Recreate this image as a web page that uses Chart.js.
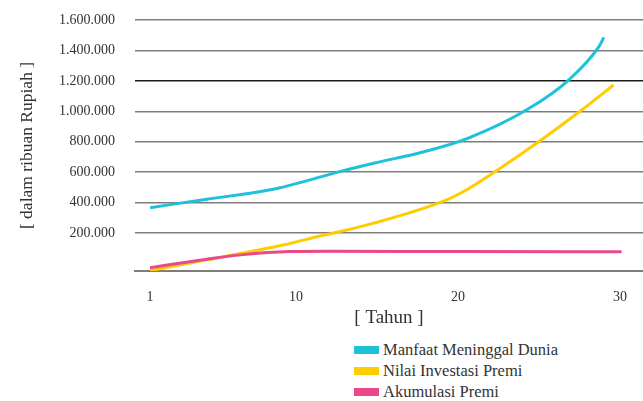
<!DOCTYPE html>
<html lang="id">
<head>
  <meta charset="UTF-8" />
  <title>Manfaat Asuransi</title>
  <script src="https://cdn.jsdelivr.net/npm/chart.js"></script>
  <style>
    body {
      margin: 0;
      background: #fff;
      font-family: 'Liberation Serif', serif;
    }
    .wrap {
      position: relative;
      width: 643px;
      height: 401px;
    }
    #legend {
      position: absolute;
      left: 354px;
      top: 340px;
    }
    .item {
      display: flex;
      align-items: center;
      height: 20.7px;
      font-size: 16.5px;
      color: #333;
    }
    .item span.box {
      width: 25px;
      height: 8px;
      margin-right: 4px;
    }
  </style>
</head>
<body>
  <div class="wrap">
    <canvas id="chart" width="643" height="335"></canvas>
    <div id="legend"></div>
  </div>

  <script>
    // nilai dalam ribuan Rupiah
    const xTicks = [1, 10, 20, 30];
    const yTicks = [200000, 400000, 600000, 800000, 1000000, 1200000, 1400000, 1600000];

    const manfaatYears = [1, 4.5, 8.6, 10.7, 12.7, 14.8, 17.9, 20.6, 24.3, 26.9, 28.7, 29];
    const manfaatValues = [366000, 422000, 487000, 544000, 603000, 658000, 734000, 822000, 1013000, 1212000, 1425000, 1486000];

    const investasiYears = [1, 4.5, 9.2, 11.5, 14.4, 19.3, 20.7, 22.4, 25.2, 27.7, 29.6];
    const investasiValues = [-48000, 23000, 121000, 180000, 253000, 417000, 494000, 610000, 816000, 1013000, 1173000];

    const akumulasiYears = [1, 4.5, 6.6, 9.6, 12, 20, 30.1];
    const akumulasiValues = [-28000, 27000, 56000, 78000, 80000, 78000, 77000];

    const toPoints = (xs, ys) => xs.map((x, i) => ({ x, y: ys[i] }));

    const serif = "'Liberation Serif', serif";
    const gridGray = '#7d7d7d';

    const datasets = [
      { label: 'Manfaat Meninggal Dunia', data: toPoints(manfaatYears, manfaatValues), borderColor: '#1ec0da', order: 1 },
      { label: 'Nilai Investasi Premi', data: toPoints(investasiYears, investasiValues), borderColor: '#ffcc00', order: 2 },
      { label: 'Akumulasi Premi', data: toPoints(akumulasiYears, akumulasiValues), borderColor: '#e9498b', order: 0 }
    ].map(d => Object.assign(d, {
      borderWidth: 3,
      pointRadius: 0,
      fill: false,
      cubicInterpolationMode: 'monotone'
    }));

    const chart = new Chart(document.getElementById('chart'), {
      type: 'line',
      data: { datasets },
      options: {
        responsive: false,
        animation: false,
        layout: { padding: { top: 20, left: 0, right: 0, bottom: 0 } },
        plugins: { legend: { display: false }, tooltip: { enabled: false } },
        scales: {
          x: {
            type: 'linear',
            min: 0.07,
            max: 31.42,
            afterBuildTicks: s => { s.ticks = xTicks.map(v => ({ value: v })); },
            afterFit: s => { s.height = 64; },
            grid: { display: false },
            border: { display: true, color: gridGray, width: 2 },
            ticks: { padding: 10, color: '#333', font: { family: serif, size: 14 } },
            title: {
              display: true,
              text: '[ Tahun ]',
              color: '#333',
              font: { family: serif, size: 19 },
              padding: { top: 0, bottom: 6 }
            }
          },
          y: {
            min: -50000,
            max: 1600000,
            afterBuildTicks: s => { s.ticks = yTicks.map(v => ({ value: v })); },
            afterFit: s => {
              s.width = 135;
              // the tick padding should not push the plot area down
              s.paddingTop = 0;
              s.paddingBottom = 0;
            },
            border: { display: false },
            grid: {
              drawTicks: false,
              lineWidth: 1.5,
              color: c => (c.tick && c.tick.value === 1200000 ? '#1a1a1a' : gridGray)
            },
            ticks: {
              padding: 20,
              color: '#333',
              font: { family: serif, size: 14 },
              callback: v => v.toLocaleString('de-DE')
            },
            title: {
              display: true,
              text: '[ dalam ribuan Rupiah ]',
              color: '#333',
              font: { family: serif, size: 17.5 },
              padding: { top: 17, bottom: 0 }
            }
          }
        }
      }
    });

    // legenda bertumpuk di kanan bawah
    const legend = document.getElementById('legend');
    [0, 1, 2].forEach(i => {
      const ds = chart.data.datasets[i];
      const row = document.createElement('div');
      row.className = 'item';
      const box = document.createElement('span');
      box.className = 'box';
      box.style.background = ds.borderColor;
      row.appendChild(box);
      row.appendChild(document.createTextNode(ds.label));
      legend.appendChild(row);
    });
  </script>
</body>
</html>
